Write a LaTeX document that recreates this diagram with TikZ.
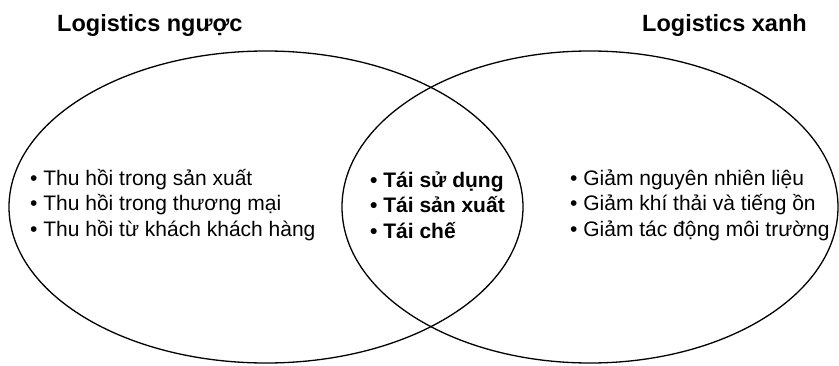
\documentclass[tikz,border=0pt]{standalone}
\usepackage{fontspec}
\setmainfont{Liberation Sans}
\begin{document}
\begin{tikzpicture}[x=1pt, y=1pt,
          venn/.style={line width=1.3pt},
          lst/.style={anchor=west, align=left, inner sep=0pt, font=\fontsize{21}{25.5}\selectfont},
          head/.style={anchor=base west, inner sep=0pt, font=\fontsize{23.5}{28}\selectfont\bfseries}]
        \useasboundingbox (0,0) rectangle (839,365);
        % two overlapping sets, 1 unit = 1 px of the 839 x 365 frame
        \draw[venn] (266,158) ellipse (257 and 156);
        \draw[venn] (590,158) ellipse (248 and 156);
        \node[head] (revtitle) at (57,333) {Logistics ngược};
        \node[head] (greentitle) at (642,333) {Logistics xanh};
        \node[lst] (revlist) at (30,160) {• Thu hồi trong sản xuất\\• Thu hồi trong thương mại\\• Thu hồi từ khách khách hàng};
        \node[lst, font=\fontsize{21}{25.5}\selectfont\bfseries] (common) at (370,160) {• Tái sử dụng\\• Tái sản xuất\\• Tái chế};
        \node[lst] (greenlist) at (570,160) {• Giảm nguyên nhiên liệu\\• Giảm khí thải và tiếng ồn\\• Giảm tác động môi trường};
      \end{tikzpicture}
\end{document}
